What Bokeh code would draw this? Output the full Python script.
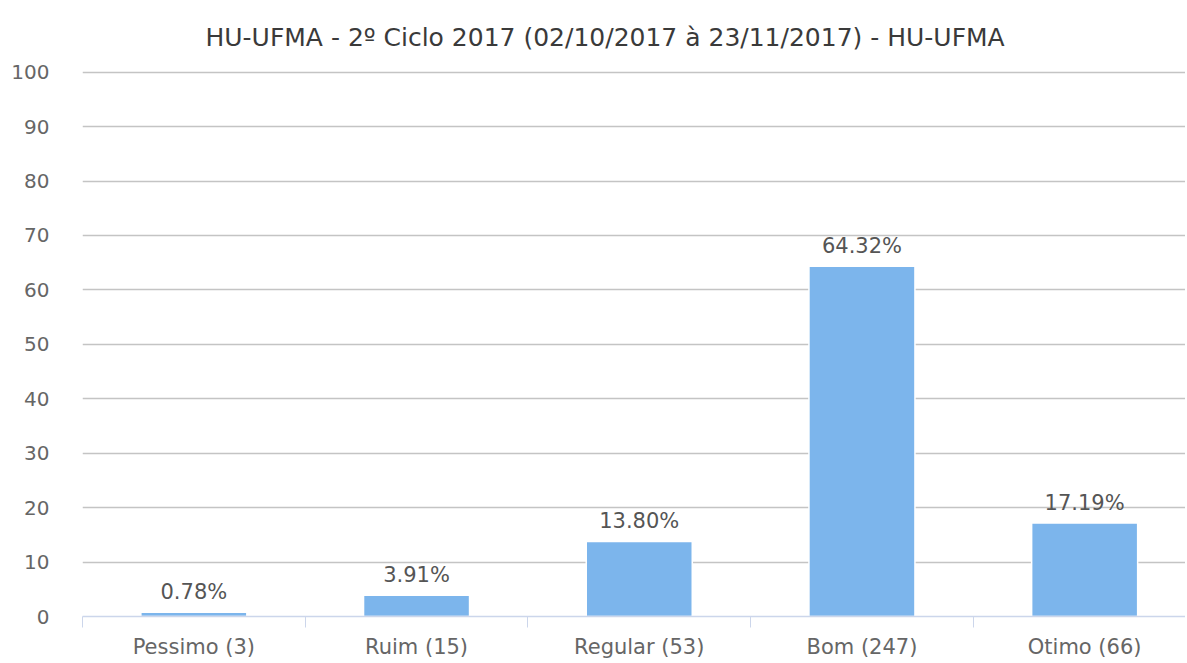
from bokeh.plotting import figure
from bokeh.models import ColumnDataSource, Range1d, FixedTicker, LabelSet
from bokeh.core.properties import value
from bokeh.embed import file_html
from bokeh.resources import INLINE

categories = ["Pessimo (3)", "Ruim (15)", "Regular (53)", "Bom (247)", "Otimo (66)"]
values = [0.78, 3.91, 13.80, 64.32, 17.19]
labels = ["0.78%", "3.91%", "13.80%", "64.32%", "17.19%"]
y_ticks = [0, 10, 20, 30, 40, 50, 60, 70, 80, 90, 100]

FONT = "DejaVu Sans"
xs = list(range(len(categories)))
src = ColumnDataSource(dict(x=xs, top=values, lab=labels))

W, H = 1185, 661
LEFT, TOP, BOTTOM = 82, 70, 42
cat_px = 222.7
x_end = -0.5 + (W - LEFT) / cat_px

p = figure(width=W, height=H, output_backend="svg", toolbar_location=None,
           x_range=Range1d(-0.5, x_end), y_range=Range1d(0, 100.3),
           min_border_left=LEFT, min_border_right=0, min_border_top=TOP, min_border_bottom=BOTTOM)

p.vbar(x="x", top="top", width=0.476, bottom=0, source=src,
       fill_color="#7cb5ec", line_color="white", line_width=1.5)

p.add_layout(LabelSet(x="x", y="top", text="lab", source=src, text_align="center",
                      text_baseline="bottom", y_offset=8, text_font=value(FONT),
                      text_font_size="21px", text_color="#555555"))

p.title.text = "HU-UFMA - 2º Ciclo 2017 (02/10/2017 à 23/11/2017) - HU-UFMA"
p.title.align = "left"
p.title.text_font = FONT
p.title.text_font_size = "25px"
p.title.text_font_style = "normal"
p.title.text_color = "#3a3a3a"
p.title.offset = 123
p.title.standoff = 38

xa = p.xaxis[0]
xa.ticker = FixedTicker(ticks=xs, minor_ticks=[i - 0.5 for i in range(len(categories) + 1)])
xa.major_label_overrides = {i: c for i, c in enumerate(categories)}
xa.major_tick_out = 0
xa.major_tick_in = 0
xa.minor_tick_out = 11
xa.minor_tick_in = 0
xa.minor_tick_line_color = "#ccd6eb"
xa.axis_line_color = "#ccd6eb"
xa.axis_line_width = 1.5
xa.major_label_text_font = FONT
xa.major_label_text_font_size = "21px"
xa.major_label_text_color = "#666666"
xa.major_label_standoff = 7

ya = p.yaxis[0]
ya.ticker = FixedTicker(ticks=y_ticks)
ya.axis_line_color = None
ya.major_tick_line_color = None
ya.minor_tick_line_color = None
ya.major_label_text_font = FONT
ya.major_label_text_font_size = "20px"
ya.major_label_text_color = "#666666"
ya.major_label_standoff = 27

p.xgrid.grid_line_color = None
p.ygrid.grid_line_color = "#c4c4c4"
p.ygrid.grid_line_width = 1.5
p.outline_line_color = None

open("out.html", "w").write(file_html(p, INLINE))
